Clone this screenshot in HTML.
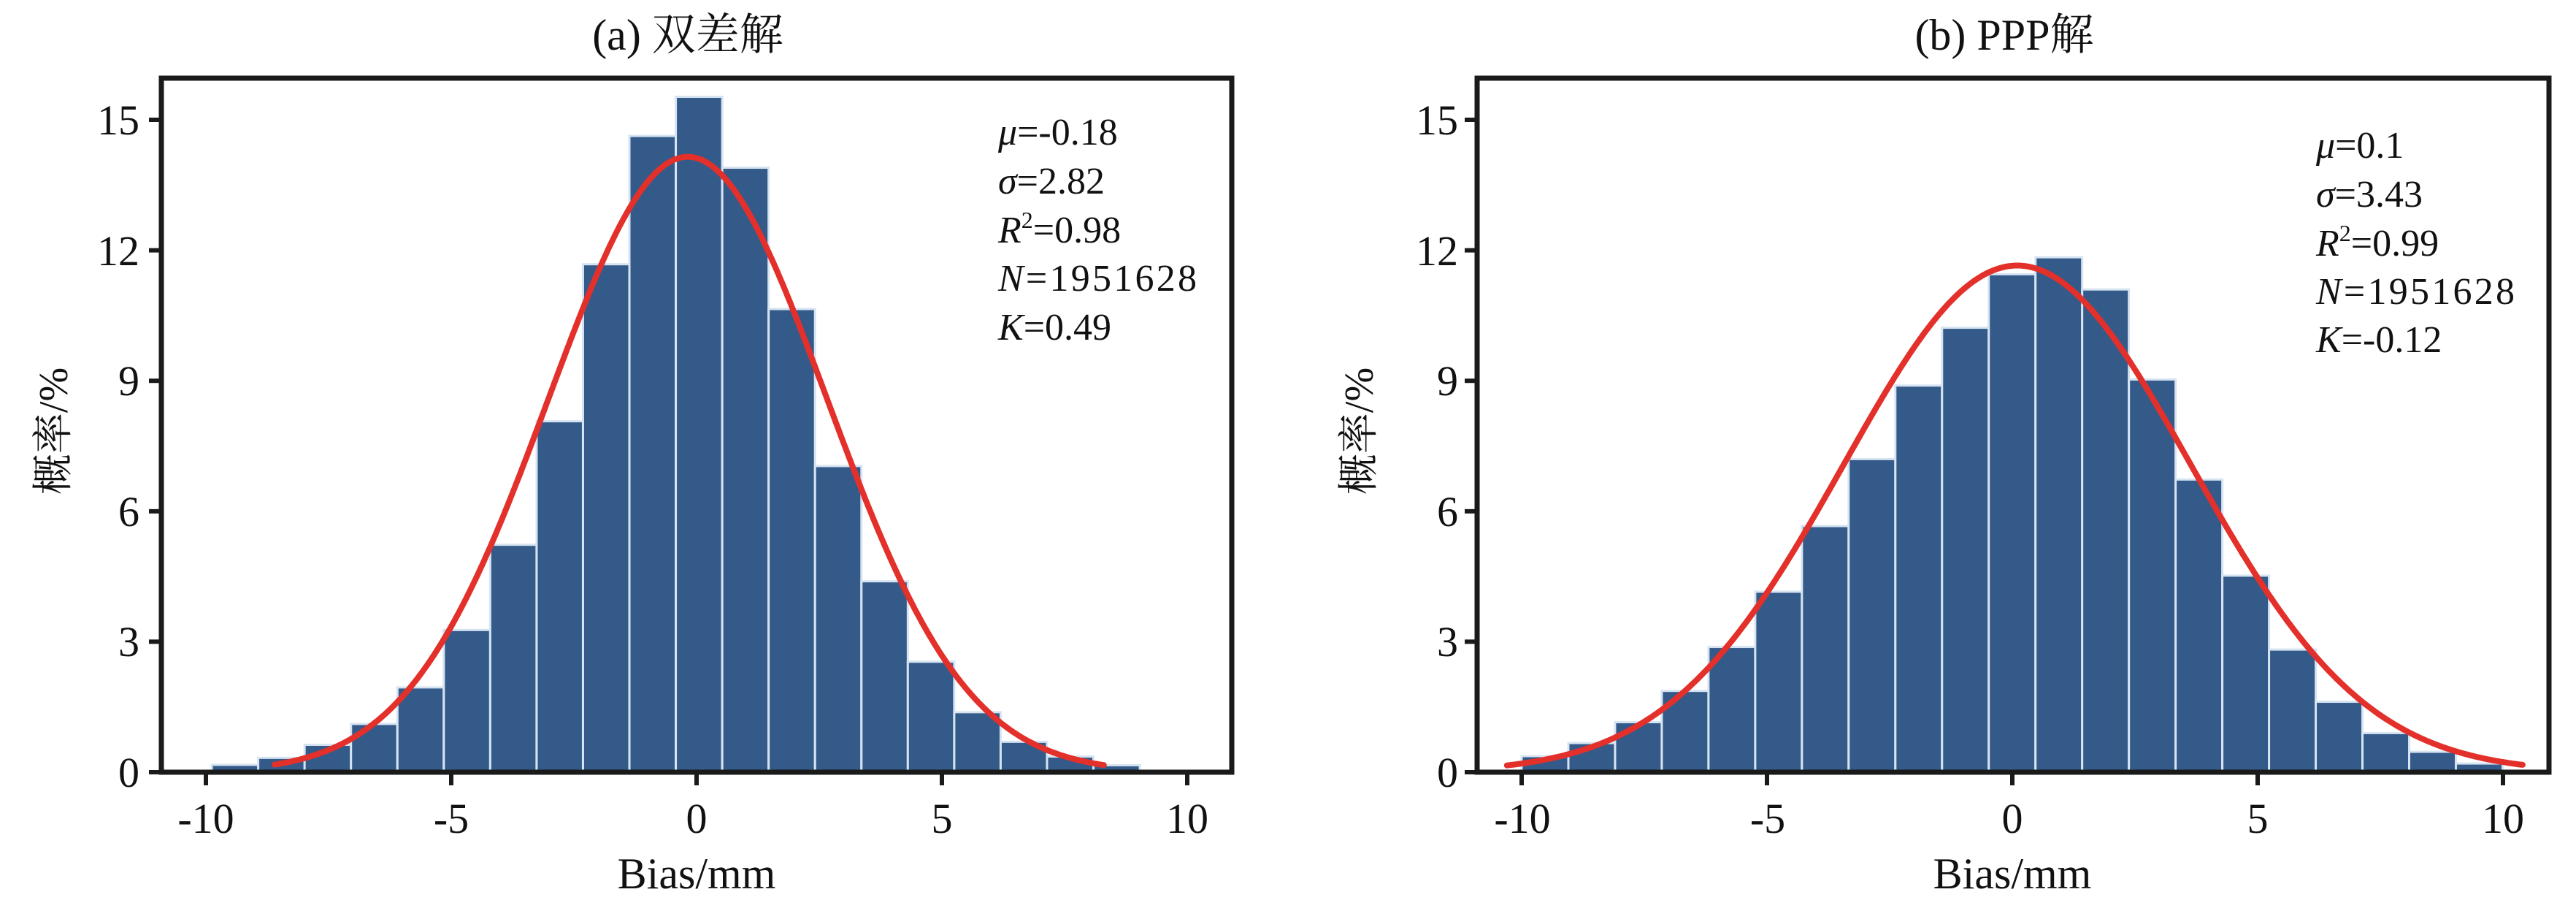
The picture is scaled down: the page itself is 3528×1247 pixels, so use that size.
<!DOCTYPE html>
<html><head><meta charset="utf-8"><style>
html,body{margin:0;padding:0;background:#fff;width:3528px;height:1247px;overflow:hidden}
svg{display:block}
text{font-family:"Liberation Serif","Noto Serif CJK SC","Noto Sans CJK SC",serif;fill:#111}
</style></head><body>
<svg id="s" width="3528" height="1247" viewBox="0 0 3528 1247" xmlns="http://www.w3.org/2000/svg">
<g id="bars"></g>
<!-- Left panel texts -->
<text x="942" y="68" font-size="60" text-anchor="middle">(a) 双差解</text>
<text x="954" y="1216" font-size="60" text-anchor="middle">Bias/mm</text>
<text transform="translate(92,590) rotate(-90)" font-size="56" text-anchor="middle">概率/%</text>
<g font-size="58" text-anchor="middle">
<text x="282" y="1140">-10</text><text x="618" y="1140">-5</text><text x="954" y="1140">0</text><text x="1290" y="1140">5</text><text x="1626" y="1140">10</text>
</g>
<g font-size="58" text-anchor="end">
<text x="191" y="1077">0</text><text x="191" y="898">3</text><text x="191" y="720">6</text><text x="191" y="541">9</text><text x="191" y="363">12</text><text x="191" y="184">15</text>
</g>
<g font-size="52">
<text x="1367" y="198"><tspan font-style="italic">μ</tspan>=-0.18</text>
<text x="1367" y="265"><tspan font-style="italic">σ</tspan>=2.82</text>
<text x="1367" y="332"><tspan font-style="italic">R</tspan><tspan font-size="32" dy="-20">2</tspan><tspan dy="20">=0.98</tspan></text>
<text x="1367" y="398" textLength="272"><tspan font-style="italic">N</tspan>=1951628</text>
<text x="1367" y="465"><tspan font-style="italic">K</tspan>=0.49</text>
</g>
<!-- Right panel texts -->
<text x="2745" y="68" font-size="60" text-anchor="middle">(b) PPP解</text>
<text x="2756" y="1216" font-size="60" text-anchor="middle">Bias/mm</text>
<text transform="translate(1880,590) rotate(-90)" font-size="56" text-anchor="middle">概率/%</text>
<g font-size="58" text-anchor="middle">
<text x="2085" y="1140">-10</text><text x="2421" y="1140">-5</text><text x="2756" y="1140">0</text><text x="3092" y="1140">5</text><text x="3428" y="1140">10</text>
</g>
<g font-size="58" text-anchor="end">
<text x="1997" y="1077">0</text><text x="1997" y="898">3</text><text x="1997" y="720">6</text><text x="1997" y="541">9</text><text x="1997" y="363">12</text><text x="1997" y="184">15</text>
</g>
<g font-size="52">
<text x="3172" y="216"><tspan font-style="italic">μ</tspan>=0.1</text>
<text x="3172" y="283"><tspan font-style="italic">σ</tspan>=3.43</text>
<text x="3172" y="350"><tspan font-style="italic">R</tspan><tspan font-size="32" dy="-20">2</tspan><tspan dy="20">=0.99</tspan></text>
<text x="3172" y="416" textLength="272"><tspan font-style="italic">N</tspan>=1951628</text>
<text x="3172" y="482"><tspan font-style="italic">K</tspan>=-0.12</text>
</g>
</svg>
<script>
(function(){
var NS="http://www.w3.org/2000/svg",g=document.getElementById('bars');
function el(n,a){var e=document.createElementNS(NS,n);for(var k in a)e.setAttribute(k,a[k]);g.appendChild(e);return e;}
var Y0=1057,SY=59.53,SX=67.2;
function panel(x0,bx1,bx2,start,w,h,mu,peak,sig,c1,c2){
  for(var i=0;i<h.length;i++){
    var xa=x0+(start+i*w)*SX, xb=x0+(start+(i+1)*w)*SX;
    el('rect',{x:xa,y:Y0-h[i]*SY,width:xb-xa,height:h[i]*SY,fill:'#345a8a',stroke:'#d6e4f2','stroke-width':3});
  }
  var d='';
  for(var x=c1;x<=c2+1e-9;x+=0.05){
    var y=peak*Math.exp(-(x-mu)*(x-mu)/(2*sig*sig));
    d+=(d?'L':'M')+(x0+x*SX).toFixed(1)+' '+(Y0-y*SY).toFixed(1);
  }
  el('path',{d:d,fill:'none',stroke:'#e3302a','stroke-width':8,'stroke-linecap':'round'});
  el('rect',{x:bx1,y:107,width:bx2-bx1,height:Y0-107,fill:'none',stroke:'#1a1a1a','stroke-width':7});
  for(var t=-10;t<=10;t+=5){var tx=x0+t*SX;el('line',{x1:tx,y1:Y0,x2:tx,y2:Y0+18,stroke:'#1a1a1a','stroke-width':6});}
  for(var v=0;v<=15;v+=3){var ty=Y0-v*SY;el('line',{x1:bx1,y1:ty,x2:bx1-17,y2:ty,stroke:'#1a1a1a','stroke-width':6});}
}
panel(954,221,1687,-9.88,0.9457,[0.17,0.33,0.63,1.11,1.95,3.27,5.23,8.07,11.68,14.63,15.53,13.9,10.65,7.04,4.39,2.54,1.38,0.70,0.36,0.16],-0.18,14.15,2.84,-8.6,8.3);
panel(2756,2023,3491,-10,0.952,[0.37,0.67,1.15,1.87,2.88,4.15,5.66,7.2,8.89,10.22,11.45,11.84,11.1,9.03,6.73,4.52,2.82,1.62,0.90,0.47,0.2],0.1,11.65,3.54,-10.3,10.4);
})();
</script>
</body></html>
